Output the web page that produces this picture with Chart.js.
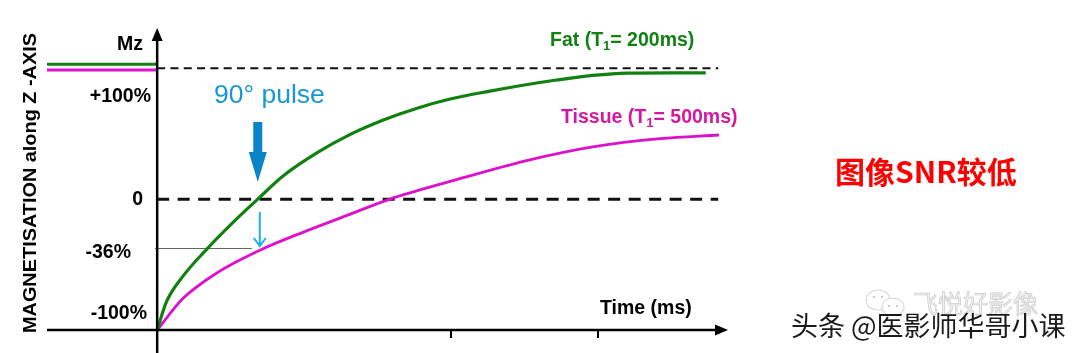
<!DOCTYPE html>
<html>
<head>
<meta charset="utf-8">
<script src="https://cdn.jsdelivr.net/npm/chart.js@4"></script>
<style>
  html, body { margin: 0; padding: 0; background: #fff; }
  canvas { display: block; }
</style>
</head>
<body>
<canvas id="t1Chart" width="1080" height="353"></canvas>
<script>
// recovery curves (time in ms, Mz in %)
const fatTime = [0, 13, 35, 68, 103, 137, 171, 218, 263, 308, 354, 399, 453, 498, 544, 593, 640, 700, 747];
const fatMz = [-100, -78, -59, -38, -18, 0, 17.5, 35.5, 49.5, 60.5, 69.5, 76.5, 82.5, 87, 91, 94.5, 96.3, 96.5, 96.5];

const tissueTime = [0, 35, 81, 140, 200, 263, 317, 399, 503, 593, 685, 765];
const tissueMz = [-100, -76, -56.5, -39, -25, -11.5, 0, 13.5, 29.5, 40, 46.3, 49];

// equilibrium before the pulse
const beforeTime = [-150, 0];
const fatBefore = [103, 103];
const tissueBefore = [98.6, 98.6];

const yTickValues = [100, 0, -36, -100];
const yTickLabels = ["+100%", "0", "-36%", "-100%"];
const xTickValues = [400, 600];

const pulseTime = 137;

const GREEN = "#108010";
const MAGENTA = "#dd11cc";
const FONT = "'Liberation Sans', Arial, sans-serif";
const LABEL_SIZE = 19.5;

function pts(xs, ys) {
  return xs.map((x, i) => ({ x: x, y: ys[i] }));
}

function arrowHead(ctx, x, y, dir, len, half) {
  ctx.beginPath();
  if (dir === "up") {
    ctx.moveTo(x, y);
    ctx.lineTo(x - half, y + len);
    ctx.lineTo(x + half, y + len);
  } else {
    ctx.moveTo(x, y);
    ctx.lineTo(x - len, y - half);
    ctx.lineTo(x - len, y + half);
  }
  ctx.closePath();
  ctx.fill();
}

// text with a subscript "1"
function subText(ctx, x, y, before, sub, after, size) {
  ctx.textAlign = "left";
  ctx.font = "bold " + size + "px " + FONT;
  ctx.fillText(before, x, y);
  let w = ctx.measureText(before).width;
  ctx.font = "bold " + Math.round(size * 0.65) + "px " + FONT;
  ctx.fillText(sub, x + w, y + 5);
  w += ctx.measureText(sub).width;
  ctx.font = "bold " + size + "px " + FONT;
  ctx.fillText(after, x + w, y);
}

const overlay = {
  id: "overlay",
  beforeDatasetsDraw(chart) {
    const { ctx, scales: { x, y } } = chart;
    const x0 = x.getPixelForValue(0);
    ctx.save();
    // +100% reference
    ctx.strokeStyle = "#111";
    ctx.lineWidth = 1.8;
    ctx.setLineDash([8, 5.3]);
    ctx.beginPath();
    ctx.moveTo(x0, y.getPixelForValue(100));
    ctx.lineTo(x.getPixelForValue(764), y.getPixelForValue(100));
    ctx.stroke();
    // zero line
    ctx.lineWidth = 3;
    ctx.setLineDash([12, 8.5]);
    ctx.beginPath();
    ctx.moveTo(x0, y.getPixelForValue(0));
    ctx.lineTo(x.getPixelForValue(764), y.getPixelForValue(0));
    ctx.stroke();
    ctx.setLineDash([]);
    // -36% guide
    ctx.strokeStyle = "#666";
    ctx.lineWidth = 1;
    ctx.beginPath();
    ctx.moveTo(x0 - 2, Math.round(y.getPixelForValue(-37)) + 0.5);
    ctx.lineTo(x.getPixelForValue(129), Math.round(y.getPixelForValue(-37)) + 0.5);
    ctx.stroke();
    ctx.restore();
  },
  afterDraw(chart) {
    const { ctx, chartArea, scales: { x, y } } = chart;
    const x0 = x.getPixelForValue(0);
    const yb = y.getPixelForValue(-100);
    ctx.save();

    // axes
    ctx.strokeStyle = "#000";
    ctx.fillStyle = "#000";
    ctx.lineWidth = 2.5;
    ctx.beginPath();
    ctx.moveTo(x0, chartArea.top + 10);
    ctx.lineTo(x0, 353);
    ctx.moveTo(chartArea.left, yb);
    ctx.lineTo(chartArea.right - 8, yb);
    ctx.stroke();
    arrowHead(ctx, x0, chartArea.top - 1, "up", 13, 5.5);
    arrowHead(ctx, chartArea.right - 2, yb, "right", 13, 5.5);
    ctx.lineWidth = 2;
    xTickValues.forEach(v => {
      const px = Math.round(x.getPixelForValue(v));
      ctx.beginPath();
      ctx.moveTo(px, yb);
      ctx.lineTo(px, yb + 8);
      ctx.stroke();
    });

    // y labels
    ctx.textBaseline = "middle";
    ctx.textAlign = "right";
    ctx.font = "bold " + LABEL_SIZE + "px " + FONT;
    const labelShift = { "100": 28, "0": 0, "-36": 6, "-100": -16 };
    const labelRight = { "100": 151, "0": 143, "-36": 131, "-100": 147 };
    yTickValues.forEach((v, i) => {
      ctx.fillText(yTickLabels[i], labelRight[v], y.getPixelForValue(v) + labelShift[v]);
    });
    ctx.fillText("Mz", 143, 45);

    // axis titles
    ctx.save();
    ctx.translate(31, 183);
    ctx.rotate(-Math.PI / 2);
    ctx.textAlign = "center";
    ctx.font = "bold 19px " + FONT;
    const title = "MAGNETISATION along Z -AXIS";
    const tw = ctx.measureText(title).width;
    ctx.scale(300 / tw, 1);
    ctx.fillText(title, 0, 0);
    ctx.restore();
    ctx.textAlign = "left";
    ctx.font = "bold " + LABEL_SIZE + "px " + FONT;
    ctx.fillText("Time (ms)", 600, 309);

    // series labels
    ctx.fillStyle = "#128012";
    subText(ctx, 550, 41, "Fat (T", "1", "= 200ms)", LABEL_SIZE);
    ctx.fillStyle = "#d4179f";
    subText(ctx, 561, 118, "Tissue (T", "1", "= 500ms)", LABEL_SIZE);

    // 90 degree pulse
    const xp = x.getPixelForValue(pulseTime);
    ctx.fillStyle = "#1a97d2";
    ctx.textAlign = "left";
    ctx.font = "26.5px " + FONT;
    ctx.fillText("90\u00b0 pulse", 214, 96);
    ctx.fillStyle = "#0a84c8";
    ctx.fillRect(xp - 4.5, 122, 9, 32);
    ctx.beginPath();
    ctx.moveTo(xp - 9, 152);
    ctx.lineTo(xp + 9, 152);
    ctx.lineTo(xp, 182);
    ctx.closePath();
    ctx.fill();
    // small arrow down to tissue curve
    ctx.strokeStyle = "#1ab0ea";
    ctx.lineWidth = 2;
    const xs = xp + 2;
    ctx.beginPath();
    ctx.moveTo(xs, 212);
    ctx.lineTo(xs, 246);
    ctx.moveTo(xs - 6, 238);
    ctx.lineTo(xs, 246);
    ctx.lineTo(xs + 6, 238);
    ctx.stroke();

    // side note
    ctx.fillStyle = "#ff0000";
    ctx.textAlign = "left";
    ctx.font = "bold 30px 'Noto Sans CJK SC', sans-serif";
    ctx.fillText("图像SNR较低", 835, 172);

    // watermark
    ctx.strokeStyle = "#d8d8d8";
    ctx.lineWidth = 1.2;
    ctx.beginPath();
    ctx.ellipse(878, 300, 12, 10, 0, 0, Math.PI * 2);
    ctx.stroke();
    ctx.beginPath();
    ctx.ellipse(893, 307, 11, 9, 0, 0, Math.PI * 2);
    ctx.fillStyle = "#fff";
    ctx.fill();
    ctx.stroke();
    ctx.fillStyle = "#cfcfcf";
    [[874, 297], [882, 297], [889, 306], [897, 306]].forEach(p => {
      ctx.beginPath();
      ctx.arc(p[0], p[1], 1.3, 0, Math.PI * 2);
      ctx.fill();
    });
    ctx.font = "25px 'Noto Sans CJK SC', sans-serif";
    ctx.fillStyle = "#f0f0f0";
    ctx.strokeStyle = "#cccccc";
    ctx.lineWidth = 0.7;
    ctx.fillText("飞悦好影像", 913, 303);
    ctx.strokeText("飞悦好影像", 913, 303);
    ctx.font = "27px 'Noto Sans CJK SC', sans-serif";
    ctx.shadowColor = "rgba(255,255,255,0.9)";
    ctx.shadowOffsetX = 1;
    ctx.shadowOffsetY = 1;
    ctx.fillStyle = "#1a1a1a";
    ctx.fillText("头条 @医影师华哥小课", 791, 326);
    ctx.restore();
  }
};

const ctx = document.getElementById("t1Chart");
const chart = new Chart(ctx, {
  type: "line",
  data: {
    datasets: [
      { label: "Fat", data: pts(fatTime, fatMz), borderColor: GREEN, borderWidth: 3.2, cubicInterpolationMode: "monotone", clip: false },
      { label: "Tissue", data: pts(tissueTime, tissueMz), borderColor: MAGENTA, borderWidth: 2.8, cubicInterpolationMode: "monotone", clip: false },
      { label: "Fat before", data: pts(beforeTime, fatBefore), borderColor: GREEN, borderWidth: 3, clip: false },
      { label: "Tissue before", data: pts(beforeTime, tissueBefore), borderColor: MAGENTA, borderWidth: 3, clip: false },
    ],
  },
  options: {
    responsive: false,
    animation: false,
    layout: { padding: { left: 47, right: 350, top: 29, bottom: 23 } },
    elements: { point: { radius: 0 } },
    scales: {
      x: { type: "linear", min: -150, max: 780, display: false },
      y: { min: -100, max: 130, display: false },
    },
    plugins: { legend: { display: false }, tooltip: { enabled: false } },
  },
  plugins: [overlay],
});
</script>
</body>
</html>
